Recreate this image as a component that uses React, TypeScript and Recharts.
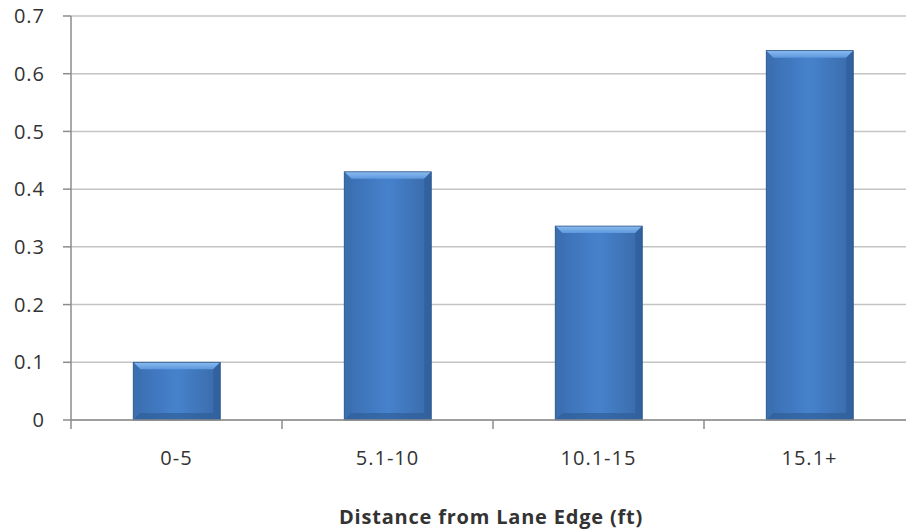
import React from "react";
import { BarChart, Bar, XAxis, YAxis, CartesianGrid } from "recharts";

const categories = ["0-5", "5.1-10", "10.1-15", "15.1+"];
const values = [0.1, 0.43, 0.336, 0.64];
const yTicks = [0, 0.1, 0.2, 0.3, 0.4, 0.5, 0.6, 0.7];

const data = categories.map((c, i) => ({ name: c, value: values[i] }));

const W = 920;
const H = 529;
const LEFT = 71;
const RIGHT = 5;
const catW = (W - LEFT - RIGHT) / categories.length;
const font = "'Open Sans', 'DejaVu Sans', sans-serif";

/** beveled bar, Excel 2007 look */
function BevelBar(props: any) {
  const { x, y, width, height } = props;
  if (!height || height <= 0) return null;
  const b = Math.min(7, height / 3);
  return (
    <g>
      <rect x={x} y={y} width={width} height={height} fill="url(#barGrad)" />
      <polygon
        points={`${x},${y} ${x + width},${y} ${x + width - b},${y + b} ${x + b},${y + b}`}
        fill="url(#topGrad)"
      />
      <polygon
        points={`${x},${y + height} ${x + width},${y + height} ${x + width - b},${y + height - b} ${x + b},${y + height - b}`}
        fill="#2d5a92"
        opacity={0.6}
      />
      <polygon
        points={`${x},${y} ${x + b},${y + b} ${x + b},${y + height - b} ${x},${y + height}`}
        fill="#3c6fae"
        opacity={0.7}
      />
      <polygon
        points={`${x + width},${y} ${x + width - b},${y + b} ${x + width - b},${y + height - b} ${x + width},${y + height}`}
        fill="#2f5f9c"
        opacity={0.8}
      />
      <rect x={x} y={y} width={width} height={height} fill="none" stroke="#2c5587" strokeWidth={0.8} />
    </g>
  );
}

function CatTick(props: any) {
  const { x, y, payload } = props;
  const left = x - catW / 2;
  return (
    <g>
      <line x1={left} y1={y - 8} x2={left} y2={y + 1} stroke="#8c8c8c" strokeWidth={1.5} />
      <text
        x={x}
        y={y + 37}
        textAnchor="middle"
        fill="#333"
        fontSize={20}
        letterSpacing={1}
        fontFamily={font}
      >
        {payload.value}
      </text>
    </g>
  );
}

export default function App() {
  return (
    <div style={{ position: "absolute", left: 0, top: 0, width: 906, height: H, overflow: "hidden", background: "#fff" }}>
      <BarChart
        width={W}
        height={H}
        data={data}
        margin={{ top: 16, right: RIGHT, left: 0, bottom: 0 }}
        barCategoryGap="29.5%"
      >
        <defs>
          <linearGradient id="barGrad" x1="0" y1="0" x2="1" y2="0">
            <stop offset="0%" stopColor="#3a6db0" />
            <stop offset="50%" stopColor="#4682cc" />
            <stop offset="100%" stopColor="#3a6aa9" />
          </linearGradient>
          <linearGradient id="topGrad" x1="0" y1="0" x2="0" y2="1">
            <stop offset="0%" stopColor="#8cbcf0" />
            <stop offset="100%" stopColor="#5c98de" />
          </linearGradient>
        </defs>
        <CartesianGrid horizontal vertical={false} stroke="#c4c4c4" strokeWidth={1.5} />
        <XAxis
          dataKey="name"
          tick={<CatTick />}
          tickLine={false}
          axisLine={{ stroke: "#8c8c8c", strokeWidth: 1.5 }}
          height={109}
          interval={0}
          label={{
            value: "Distance from Lane Edge (ft)",
            position: "insideBottom",
            offset: 5,
            fill: "#333",
            fontSize: 20,
            fontWeight: "bold",
            letterSpacing: 0.8,
            fontFamily: font,
            dx: -2,
          }}
        />
        <YAxis
          width={LEFT}
          domain={[0, 0.7]}
          ticks={yTicks}
          interval={0}
          tickSize={8}
          tickMargin={18}
          axisLine={{ stroke: "#8c8c8c", strokeWidth: 1.5 }}
          tickLine={{ stroke: "#8c8c8c", strokeWidth: 1.5 }}
          tick={{ fill: "#333", fontSize: 20, letterSpacing: 1, fontFamily: font }}
          tickFormatter={(v: number) => (v === 0 ? "0" : String(v))}
        />
        <Bar dataKey="value" shape={<BevelBar />} isAnimationActive={false} />
      </BarChart>
    </div>
  );
}
